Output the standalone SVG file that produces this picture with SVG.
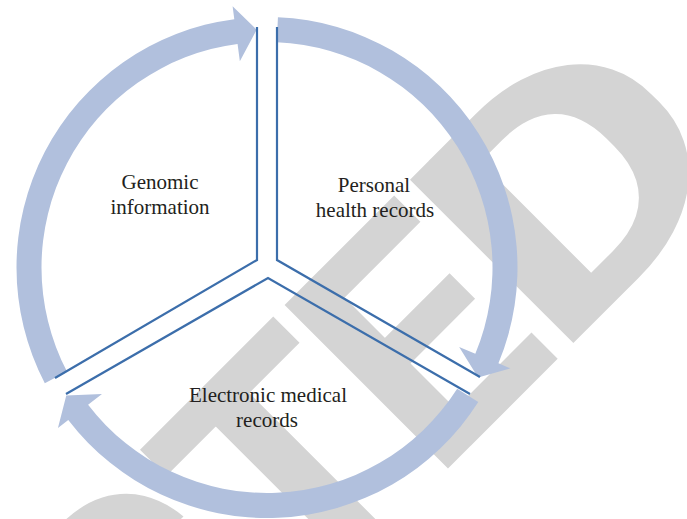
<svg xmlns="http://www.w3.org/2000/svg" xmlns:xlink="http://www.w3.org/1999/xlink" width="687" height="519" viewBox="0 0 687 519">
<defs>
<style>
.wm{font-family:Roboto,"Liberation Sans",sans-serif;font-weight:700;font-size:325px;fill:#d4d4d4}
.arc{fill:#b1c0dd}
.sec{fill:none;stroke:#3c6eab;stroke-width:2.2;stroke-linejoin:miter}
.lbl{font-family:"Liberation Serif","Times New Roman",serif;font-size:21px;fill:#231f20;text-anchor:middle}
</style>
<path id="arw" d="M250.5,0 A250.5,250.5 0 0 1 -85.676,235.393 L-90.122,247.609 L-100.584,215.702 L-71.140,195.456 L-77.126,211.900 A225.5,225.5 0 0 0 225.5,0 Z"/>
</defs>
<rect width="687" height="519" fill="#ffffff"/>
<g id="watermark">
<text class="wm" transform="rotate(-45)" x="-1434 -1232.5 -1056 -857 -655.7 -437.7 -225.5 -35" y="648">RETRACTE<tspan x="136" textLength="276" lengthAdjust="spacingAndGlyphs">D</tspan></text>
</g>
<g id="connectors">
<use xlink:href="#arw" href="#arw" class="arc" transform="translate(267,267.5) rotate(272.5)"/>
<use xlink:href="#arw" href="#arw" class="arc" transform="translate(267,267.5) rotate(32.5)"/>
<use xlink:href="#arw" href="#arw" class="arc" transform="translate(267,267.5) rotate(152.5)"/>
</g>
<g id="genomic-information">
<path class="sec" d="M257,27 V260 L55,378"/>
<text class="lbl" x="160" y="189">Genomic</text>
<text class="lbl" x="160" y="213.5">information</text>
</g>
<g id="personal-health-records">
<path class="sec" d="M277,27 V260 L480,377"/>
<text class="lbl" x="374" y="192">Personal</text>
<text class="lbl" x="375" y="216.8">health records</text>
</g>
<g id="electronic-medical-records">
<path class="sec" d="M66,394 L268,278 L470,394"/>
<text class="lbl" x="268" y="401.5">Electronic medical</text>
<text class="lbl" x="267" y="426.5">records</text>
</g>
</svg>
